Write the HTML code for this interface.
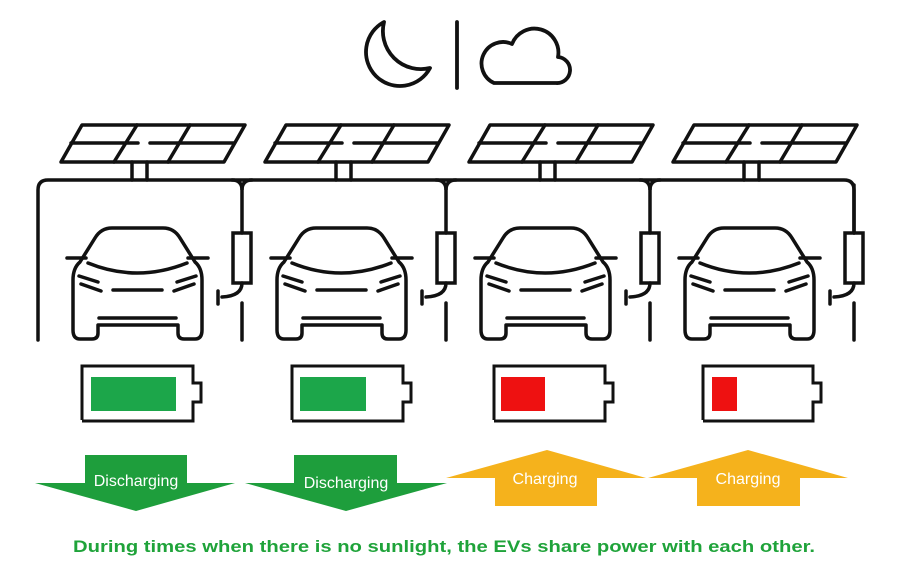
<!DOCTYPE html>
<html><head><meta charset="utf-8"><style>
html,body{margin:0;padding:0;background:#fff;}
svg{display:block;}
</style></head><body>
<svg width="900" height="580" viewBox="0 0 900 580" xmlns="http://www.w3.org/2000/svg">
<defs>
<g id="unit" fill="none" stroke="#111" stroke-width="3.5" stroke-linecap="round" stroke-linejoin="round">
  <path d="M82,125 H245 L224,162 H61 Z"/>
  <path d="M71,143 H138 M150,143 H234"/>
  <path d="M137,125 L114,162 M190,125 L168,162"/>
  <path d="M132,162 V180 M147,162 V180"/>
  <path d="M67,258 H86 M188,258 H208"/>
  <path d="M73,330 V280 Q73,268 80,262 L95,238 Q101,228 112,228 H163 Q174,228 180,238 L195,262 Q202,268 202,280 V330 Q202,339 195,339 H184 Q178,339 178,333 V325 H98 V333 Q98,339 92,339 H80 Q73,339 73,330 Z"/>
  <path d="M88,263 Q137,283 187,263"/>
  <path d="M79,276 L98,282 M81,284 L101,291 M196,276 L177,282 M194,284 L174,291"/>
  <path d="M113,290 H162"/>
  <path d="M99,318 H176"/>
</g>
</defs>
<g fill="none" stroke="#111" stroke-width="3.5" stroke-linecap="round">
  <path d="M38,340 V190 Q38,180 48,180 H844 Q854,180 854,190 V233"/>
  <path d="M232,180 Q242,180 242,190 Q242,180 252,180"/>
  <path d="M436,180 Q446,180 446,190 Q446,180 456,180"/>
  <path d="M640,180 Q650,180 650,190 Q650,180 660,180"/>
</g>
<use href="#unit"/>
<use href="#unit" x="204"/>
<use href="#unit" x="408"/>
<use href="#unit" x="612"/>
<g fill="none" stroke="#111" stroke-width="3.5" stroke-linecap="round">
  <g id="chg">
    <path d="M242,185 V233"/>
    <rect x="233" y="233" width="18" height="50"/>
    <path d="M242,283 Q242,296 222,297"/>
    <path d="M218,291 V304"/>
    <path d="M242,303 V340"/>
  </g>
  <use href="#chg" x="204"/>
  <use href="#chg" x="408"/>
  <use href="#chg" x="612"/>
</g>
<g fill="none" stroke="#111" stroke-width="3.8" stroke-linejoin="round" stroke-linecap="round">
  <path d="M384,22 A34 34 0 1 0 430,68 A38 38 0 0 1 384,22 Z"/>
  <path d="M457,22 V88"/>
  <path d="M494,83 H556 A13 13 0 0 0 558,57 A24 24 0 0 0 512,44 A18 18 0 0 0 494,83 Z"/>
</g>
<g fill="none" stroke="#111" stroke-width="3">
  <path d="M82,420 V366 H193 V383 H201 V402 H193 V421 H82"/>
  <path d="M292,420 V366 H403 V383 H411 V402 H403 V421 H292"/>
  <path d="M494,420 V366 H605 V383 H613 V402 H605 V421 H494"/>
  <path d="M703,420 V366 H813 V383 H821 V402 H813 V421 H703"/>
</g>
<rect x="91" y="377" width="85" height="34" fill="#1ca64a"/>
<rect x="300" y="377" width="66" height="34" fill="#1ca64a"/>
<rect x="501" y="377" width="44" height="34" fill="#ee1111"/>
<rect x="712" y="377" width="25" height="34" fill="#ee1111"/>
<path d="M85,455 H187 V483 H235 L136,511 L35,483 H85 Z" fill="#1e9e3c"/>
<path d="M294,455 H397 V483 H447 L346,511 L245,483 H294 Z" fill="#1e9e3c"/>
<path d="M547,450 L646,478 H597 V506 H495 V478 H446 Z" fill="#f5b21c"/>
<path d="M748,450 L848,478 H800 V506 H697 V478 H648 Z" fill="#f5b21c"/>
<g font-family="'Liberation Sans', sans-serif" font-size="16" fill="#fff" text-anchor="middle">
  <text x="136" y="486">Discharging</text>
  <text x="346" y="488">Discharging</text>
  <text x="545" y="484">Charging</text>
  <text x="748" y="484">Charging</text>
</g>
<text x="73" y="552" font-family="'Liberation Sans', sans-serif" font-weight="bold" font-size="17" fill="#1fa33a" textLength="742" lengthAdjust="spacingAndGlyphs">During times when there is no sunlight, the EVs share power with each other.</text>
</svg>
</body></html>
